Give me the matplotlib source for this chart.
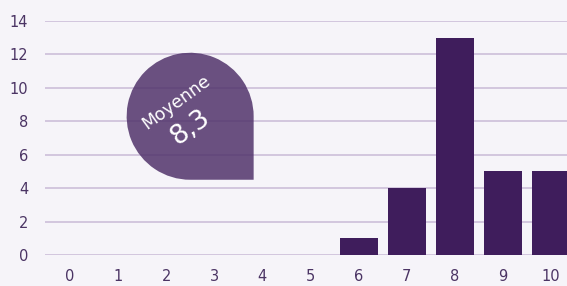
import numpy as np
import matplotlib
matplotlib.use("Agg")
import matplotlib.pyplot as plt
from matplotlib.path import Path
from matplotlib.patches import PathPatch
from matplotlib.transforms import ScaledTranslation

# notes 0..10 et nombre d'élèves
notes = [0, 1, 2, 3, 4, 5, 6, 7, 8, 9, 10]
effectifs = [0, 0, 0, 0, 0, 0, 1, 4, 13, 5, 5]
yticks = [0, 2, 4, 6, 8, 10, 12, 14]
moyenne = 8.3
moyenne_label = "8,3"

bg = "#f6f4f9"
bar_color = "#3f1d5c"
grid_color = "#cdbfd9"
text_color = "#4b3464"

plt.rcParams["font.family"] = ["DejaVu Sans"]

fig = plt.figure(figsize=(5.67, 2.86), dpi=100, facecolor=bg)
ax = fig.add_axes([0.079, 0.108, 0.921, 0.819])
ax.set_facecolor(bg)

ax.bar(notes, effectifs, width=0.79, color=bar_color, zorder=3)

ax.set_xlim(-0.52, 10.33)
ax.set_ylim(0, 14)
ax.set_xticks(notes)
ax.set_yticks(yticks)
ax.tick_params(axis="both", length=0, colors=text_color, labelsize=10.5)
ax.tick_params(axis="y", pad=12)
ax.tick_params(axis="x", pad=10)
ax.grid(axis="y", color=grid_color, linewidth=1.2, zorder=0)
for s in ax.spines.values():
    s.set_visible(False)

# goutte "Moyenne" centrée sur la moyenne
r = 0.635
arc = Path.arc(0, 270)
verts = list(arc.vertices * r) + [(r, -r), (r, 0), (r, 0)]
codes = list(arc.codes) + [Path.LINETO, Path.LINETO, Path.CLOSEPOLY]
drop = Path(verts, codes)
off = ScaledTranslation(2.5, moyenne, ax.transData)
ax.add_patch(PathPatch(drop, transform=fig.dpi_scale_trans + off,
                       facecolor="#51336b", edgecolor="none", alpha=0.85,
                       zorder=4, clip_on=False))

ax.annotate("Moyenne", xy=(2.5, moyenne), xytext=(-10, 10),
            textcoords="offset points", ha="center", va="center",
            rotation=36, color="white", fontsize=12.5, zorder=5)
ax.annotate(moyenne_label, xy=(2.5, moyenne), xytext=(0, -8),
            textcoords="offset points", ha="center", va="center",
            rotation=36, color="white", fontsize=19, zorder=5)

fig.savefig("out.png", dpi=100, facecolor=bg)
